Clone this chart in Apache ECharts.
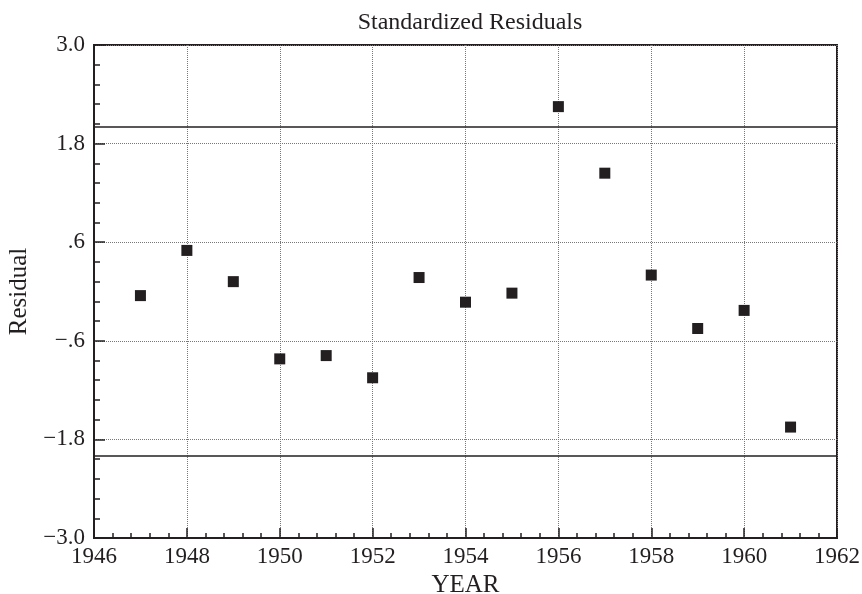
<!DOCTYPE html>
<html>
<head>
<meta charset="utf-8">
<script src="https://cdn.jsdelivr.net/npm/echarts@6/dist/echarts.min.js"></script>
<title>Standardized Residuals</title>
<style>
  html, body { margin: 0; padding: 0; background: #fff; }
  #chart { width: 862px; height: 594px; }
</style>
</head>
<body>
<div id="chart"></div>
<script>
// data
var years = [1947, 1948, 1949, 1950, 1951, 1952, 1953, 1954, 1955, 1956, 1957, 1958, 1959, 1960, 1961];
var residuals = [-0.05, 0.50, 0.12, -0.82, -0.78, -1.05, 0.17, -0.13, -0.02, 2.25, 1.44, 0.20, -0.45, -0.23, -1.65];
var limits = [2.0, -2.0];
var yTicks = [-3.0, -1.8, -0.6, 0.6, 1.8, 3.0];

// the y axis runs -3..3 with ticks every 1.2; ECharts counts ticks from min,
// so the axis is shifted by +3 (0..6) and labels are shifted back
var OFFSET = 3;
var ink = '#231f20';
var serif = 'Liberation Serif';

var points = [];
for (var i = 0; i < years.length; i++) {
    points.push([years[i], residuals[i] + OFFSET]);
}
var limitLines = limits.map(function (v) { return { yAxis: v + OFFSET }; });

function yLabel(v) {
    var r = Math.round((v - OFFSET) * 10) / 10;
    var s = Math.abs(r).toFixed(1);
    if (s.charAt(0) === '0') s = s.slice(1);
    return (r < 0 ? '\u2212' : '') + s;
}

var myChart = echarts.init(document.getElementById('chart'));
var option = {
    animation: false,
    backgroundColor: '#fff',
    title: {
        text: 'Standardized Residuals',
        left: 465,
        textAlign: 'center',
        top: 6,
        textStyle: { fontFamily: serif, fontSize: 24, fontWeight: 'normal', color: ink }
    },
    grid: {
        left: 94, right: 25, top: 45, bottom: 56,
        outerBoundsMode: 'none',
        containLabel: false,
        show: true, borderColor: ink, borderWidth: 2
    },
    xAxis: {
        type: 'value',
        min: 1946, max: 1962, interval: 2,
        name: 'YEAR',
        nameLocation: 'middle',
        nameGap: 32,
        nameTextStyle: { fontFamily: serif, fontSize: 25, color: ink },
        axisLine: { show: true, lineStyle: { color: ink, width: 2 } },
        axisTick: { show: true, inside: true, length: 10, lineStyle: { color: ink, width: 1.5 } },
        minorTick: { show: true, splitNumber: 5, length: 5, lineStyle: { color: ink, width: 1.5 } },
        axisLabel: { fontFamily: serif, fontSize: 23, color: ink, margin: 7, formatter: function (v) { return String(v); } },
        splitLine: { show: true, lineStyle: { type: 'dotted', color: '#777', width: 1 } }
    },
    yAxis: {
        type: 'value',
        min: yTicks[0] + OFFSET, max: yTicks[yTicks.length - 1] + OFFSET, interval: 1.2,
        name: 'Residual',
        nameLocation: 'middle',
        nameGap: 60,
        nameTextStyle: { fontFamily: serif, fontSize: 25, color: ink },
        axisLine: { show: true, lineStyle: { color: ink, width: 2 } },
        axisTick: { show: true, inside: true, length: 11, lineStyle: { color: ink, width: 1.5 } },
        minorTick: { show: true, splitNumber: 5, length: 6, lineStyle: { color: ink, width: 1.5 } },
        axisLabel: { fontFamily: serif, fontSize: 23, color: ink, margin: 9, formatter: yLabel },
        splitLine: { show: true, lineStyle: { type: 'dotted', color: '#777', width: 1 } }
    },
    series: [
        {
            name: 'Residual',
            type: 'scatter',
            symbol: 'rect',
            symbolSize: 11,
            itemStyle: { color: ink, opacity: 1 },
            data: points,
            markLine: {
                silent: true,
                symbol: 'none',
                label: { show: false },
                lineStyle: { type: 'solid', color: ink, width: 1.5, opacity: 1 },
                data: limitLines
            }
        }
    ]
};
myChart.setOption(option);
</script>
</body>
</html>
